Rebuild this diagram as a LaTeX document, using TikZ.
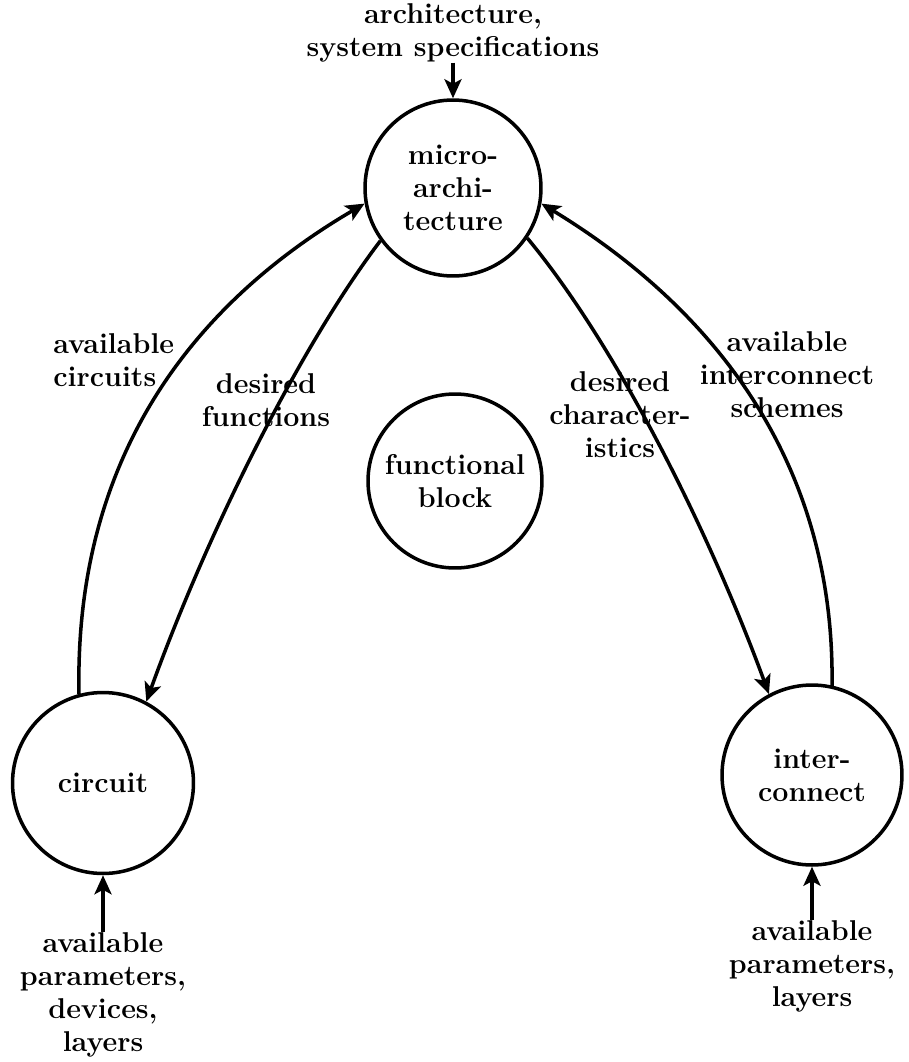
\documentclass[tikz,border=0pt]{standalone}
\usetikzlibrary{arrows.meta}
\begin{document}
\begin{tikzpicture}[x=0.02cm,y=-0.02cm,
  lbl/.style={font=\fontsize{16.3}{18.8}\selectfont\bfseries,align=center,inner sep=0pt},
  blob/.style={circle,draw,line width=2pt,inner sep=0pt,font=\fontsize{16.3}{18.8}\selectfont\bfseries,align=center},
  flow/.style={line width=2pt,-{Stealth[length=0.38cm,width=0.34cm,inset=0.09cm]}}]
\useasboundingbox (0,0) rectangle (909,1062);
\node[blob,minimum size=3.52cm] (micro) at (453,188) {micro-\\archi-\\tecture};
\node[blob,minimum size=3.48cm] (func) at (455,481) {functional\\block};
\node[blob,minimum size=3.62cm] (circ) at (103,783) {circuit};
\node[blob,minimum size=3.6cm] (inter) at (812,775) {inter-\\connect};
\node[lbl] (spec) at (453,33) {architecture,\\system specifications};
\node[lbl] (cin) at (103,995) {available\\parameters,\\devices,\\layers};
\node[lbl] (iin) at (812,966) {available\\parameters,\\layers};
\node[lbl,align=left,anchor=west] (lac) at (53,360) {available\\circuits};
\node[lbl] (ldf) at (266,400) {desired\\functions};
\node[lbl] (ldc) at (620,415) {desired\\character-\\istics};
\node[lbl] (lai) at (787,375) {available\\interconnect\\schemes};
\coordinate (c1) at (79,694);
\coordinate (c2) at (832,688);
\draw[flow] (spec.south) -- (micro.north);
\draw[flow] (cin.north) -- (circ.south);
\draw[flow] (iin.north) -- (inter.south);
\draw[flow] (c1) .. controls (74,450) and (200,300) .. (micro.190);
\draw[flow] (micro.216) .. controls (305,340) and (212,520) .. (circ.62);
\draw[flow] (micro.326) .. controls (612,340) and (705,520) .. (inter.118);
\draw[flow] (c2) .. controls (836,450) and (700,300) .. (micro.350);
\end{tikzpicture}
\end{document}
